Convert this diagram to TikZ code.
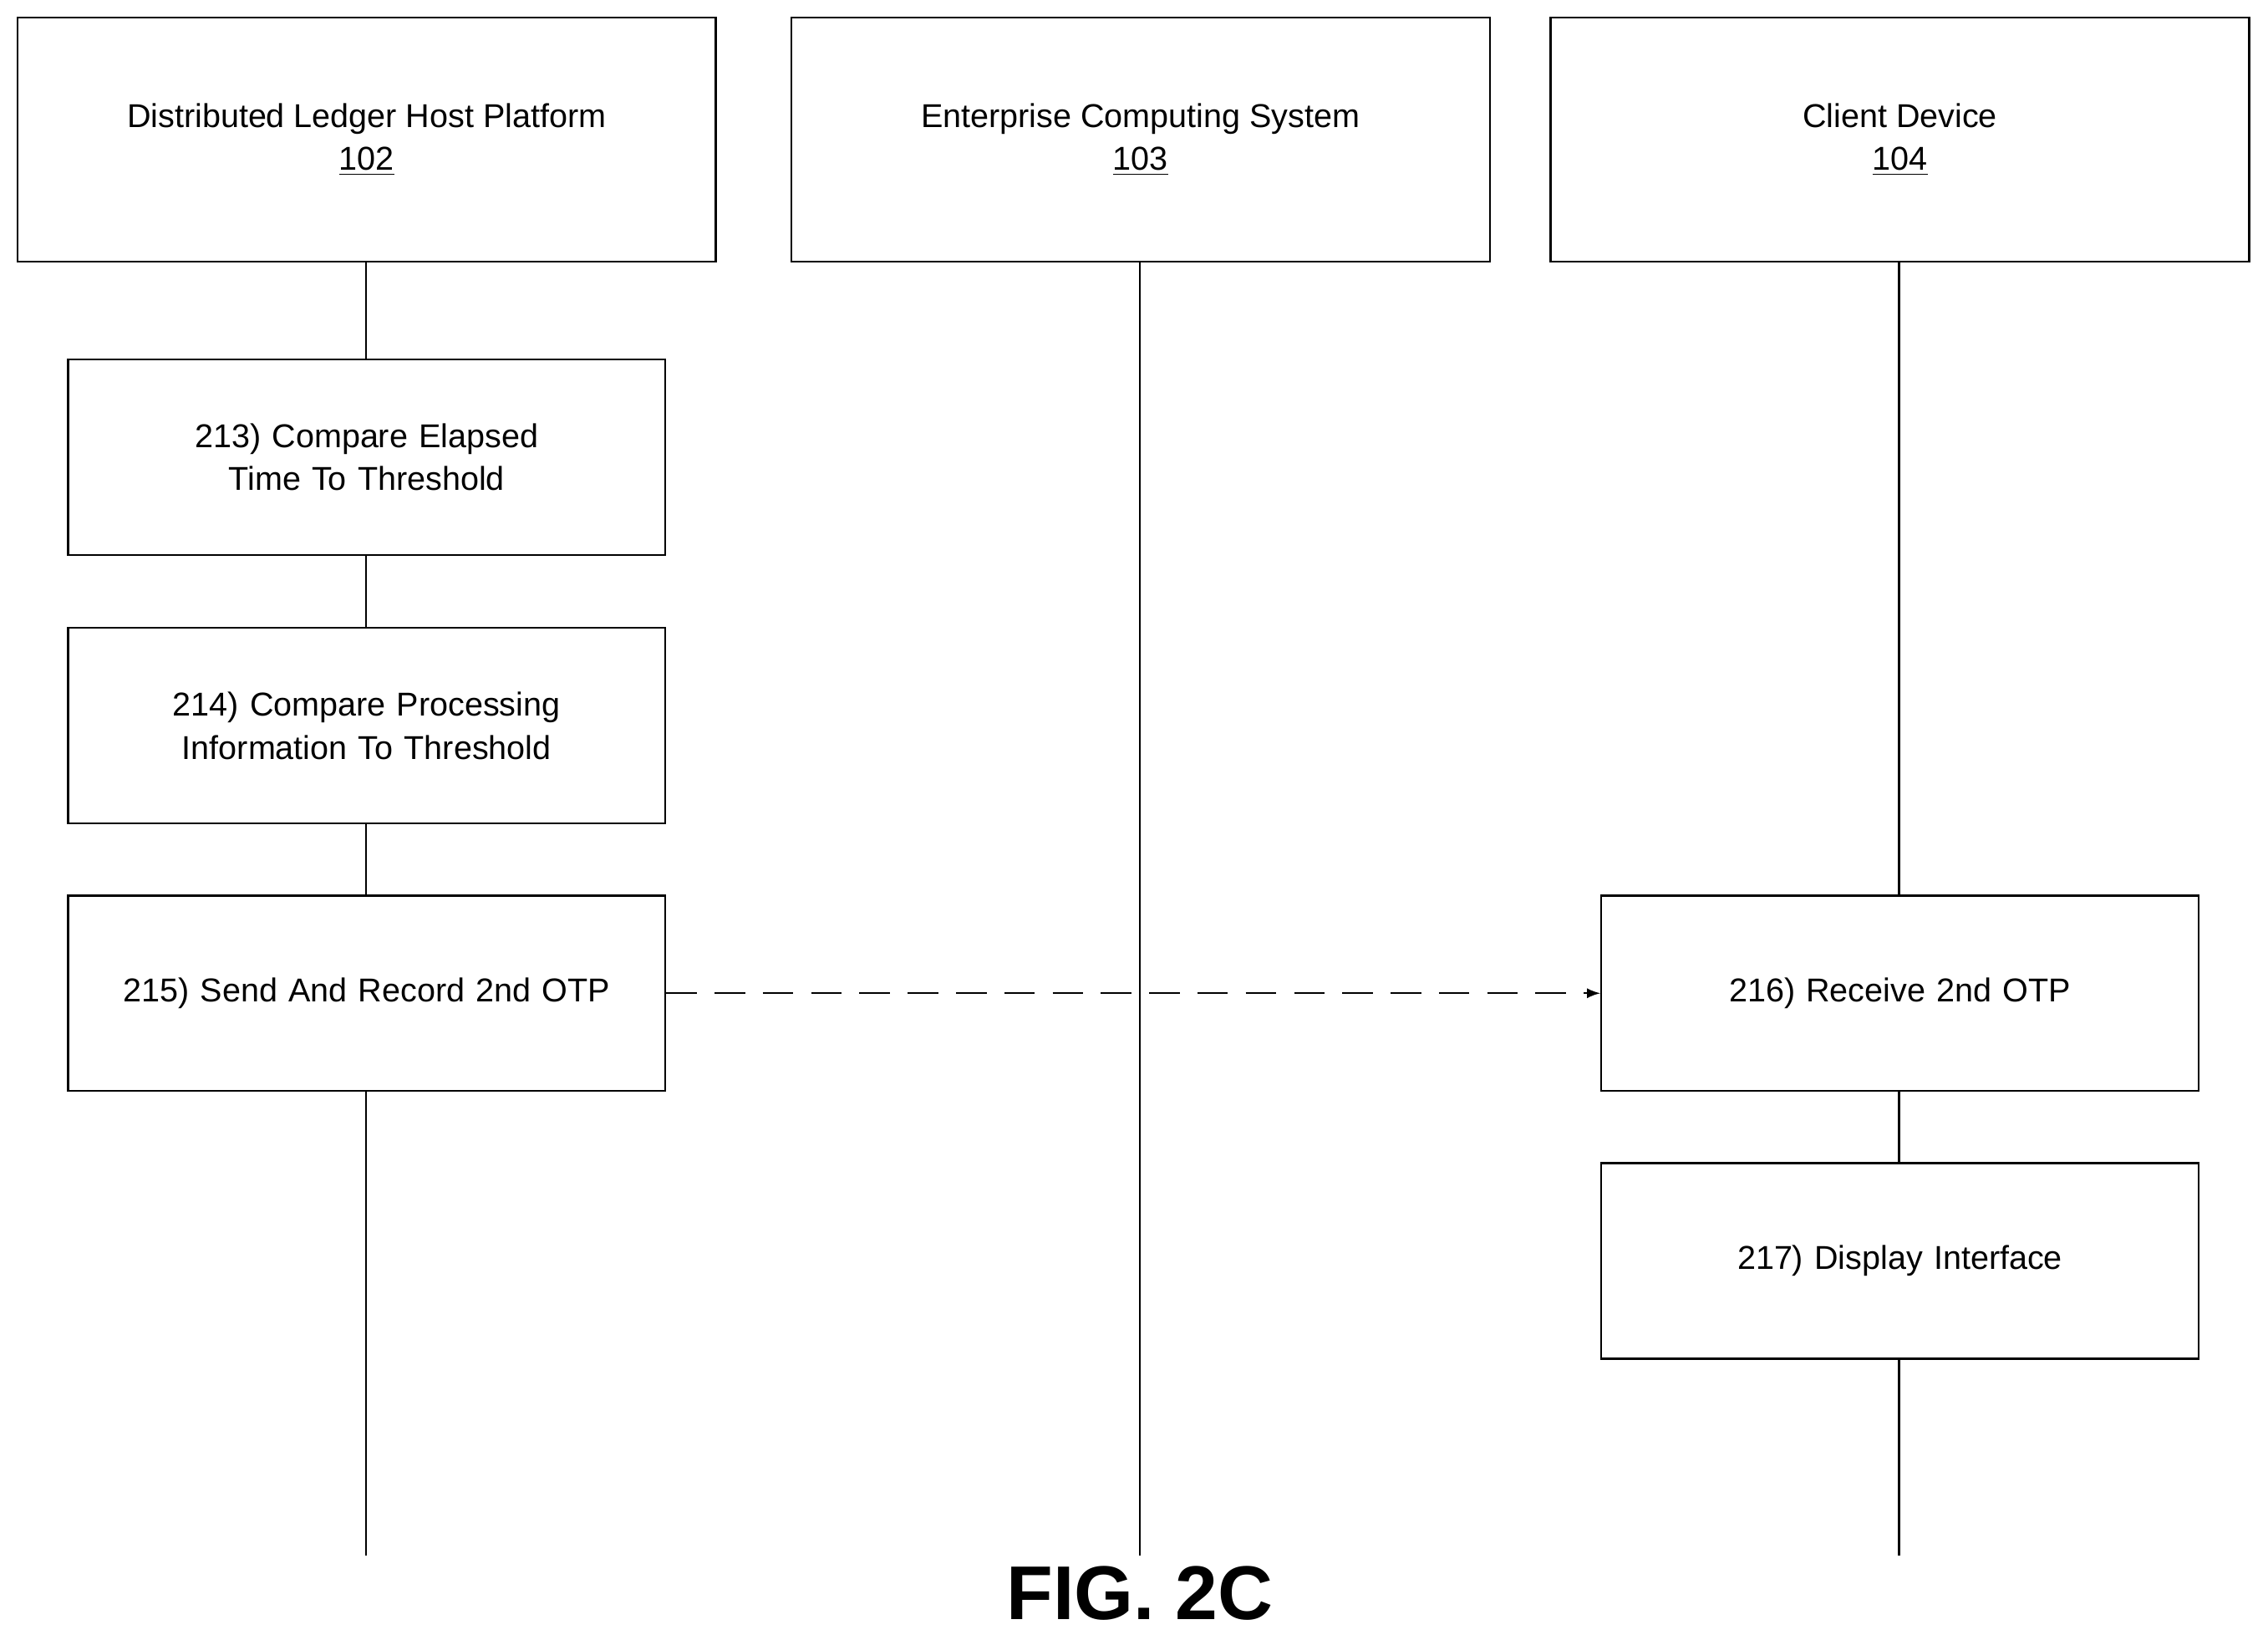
\documentclass[tikz,border=0pt]{standalone}
\usepackage{fontspec}
\setmainfont{Liberation Sans}
\usetikzlibrary{positioning}
\tikzset{
  actor/.style={draw, thick, fill=white, minimum width=9.66cm, minimum height=3.38cm, align=center, font=\fontsize{13}{17}\selectfont},
  stepbox/.style={draw, thick, fill=white, minimum width=8.26cm, minimum height=2.7cm, text width=7.9cm, align=center, font=\fontsize{13}{17}\selectfont},
  life/.style={thick},
}
\begin{document}
\begin{tikzpicture}[x=0.02cm, y=-0.02cm]
    \useasboundingbox (0,0) rectangle (1568,1133);
    % lifelines
    \coordinate (l102) at (253,1075);
    \coordinate (l103) at (788,1075);
    \coordinate (l104) at (1313,1075);
    \draw[life] (253,96) -- (l102);
    \draw[life] (788,96) -- (l103);
    \draw[life] (1313,96) -- (l104);
    % actors
    \node[actor] (dlhp) at (253.5,96.5) {Distributed Ledger Host Platform\\\underline{102}};
    \node[actor] (ecs) at (788.5,96.5) {Enterprise Computing System\\\underline{103}};
    \node[actor] (cd) at (1313.5,96.5) {Client Device\\\underline{104}};
    % 213 - 215
    \node[stepbox] (s213) at (253.5,316) {213) Compare Elapsed Time To Threshold};
    \node[stepbox] (s214) at (253.5,501.5) {214) Compare Processing Information To Threshold};
    \node[stepbox] (s215) at (253.5,686.5) {215) Send And Record 2nd OTP};
    % 216 - 217
    \node[stepbox] (s216) at (1313.5,686.5) {216) Receive 2nd OTP};
    \node[stepbox] (s217) at (1313.5,871.5) {217) Display Interface};
    \draw[thick, dashed, dash pattern=on 12pt off 7pt, -latex] (s215) -- (s216);
    % caption
    \node[font=\bfseries\fontsize{30}{36}\selectfont] (fig) at (788,1101) {FIG. 2C};
\end{tikzpicture}
\end{document}
